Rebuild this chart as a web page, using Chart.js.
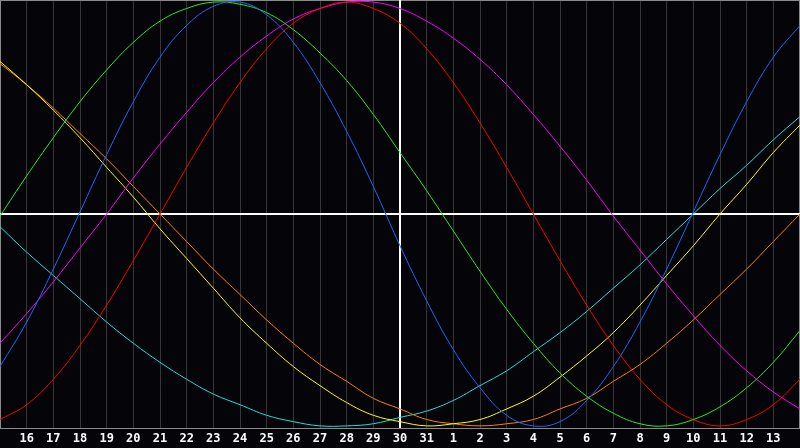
<!DOCTYPE html>
<html>
<head>
<meta charset="utf-8">
<script src="https://cdn.jsdelivr.net/npm/chart.js@4/dist/chart.umd.min.js"></script>
<style>
   html, body { margin: 0; padding: 0; background: #050408; }
   canvas { display: block; }
</style>
</head>
<body>
<canvas id="bioChart" width="800" height="448"></canvas>
<script>
// days shown, 15th to 14th of the next month
const days = ['15','16','17','18','19','20','21','22','23','24','25','26','27','28','29','30','31',
   '1','2','3','4','5','6','7','8','9','10','11','12','13','14'];

// cycle values, -1 .. 1
const physical = [-0.72,-0.51,-0.26,0.01,0.28,0.53,0.74,0.89,0.98,1.00,0.94,0.81,0.62,0.39,0.13,-0.15,
   -0.41,-0.64,-0.82,-0.95,-1.00,-0.98,-0.88,-0.72,-0.51,-0.26,0.01,0.28,0.53,0.74,0.89];
const emotional = [-0.97,-0.90,-0.78,-0.62,-0.43,-0.22,0.00,0.22,0.43,0.62,0.78,0.90,0.97,1.00,0.97,0.90,
   0.78,0.62,0.43,0.22,0.00,-0.22,-0.43,-0.62,-0.78,-0.90,-0.97,-1.00,-0.97,-0.90,-0.78];
const intellectual = [-0.01,0.18,0.36,0.53,0.68,0.81,0.91,0.97,1.00,0.99,0.95,0.87,0.76,0.63,0.47,0.29,
   0.11,-0.08,-0.27,-0.45,-0.61,-0.75,-0.86,-0.94,-0.99,-1.00,-0.97,-0.91,-0.82,-0.70,-0.55];
const intuitive = [-0.61,-0.47,-0.32,-0.16,0.00,0.17,0.33,0.48,0.62,0.74,0.84,0.92,0.97,1.00,1.00,0.97,
   0.91,0.83,0.73,0.61,0.47,0.32,0.16,-0.01,-0.17,-0.33,-0.48,-0.62,-0.74,-0.84,-0.92];
const aesthetic = [0.72,0.61,0.49,0.36,0.22,0.08,-0.07,-0.21,-0.35,-0.49,-0.61,-0.72,-0.81,-0.89,-0.95,-0.98,
   -1.00,-0.99,-0.97,-0.92,-0.86,-0.77,-0.67,-0.56,-0.43,-0.29,-0.15,0.00,0.14,0.29,0.42];
const awareness = [0.71,0.61,0.50,0.38,0.26,0.13,0.00,-0.13,-0.26,-0.38,-0.50,-0.61,-0.71,-0.79,-0.87,-0.92,
   -0.97,-0.99,-1.00,-0.99,-0.97,-0.92,-0.87,-0.79,-0.71,-0.61,-0.50,-0.38,-0.26,-0.13,0.00];
const spiritual = [-0.06,-0.18,-0.29,-0.40,-0.51,-0.61,-0.70,-0.78,-0.85,-0.90,-0.95,-0.98,-1.00,-1.00,-0.99,-0.96,
   -0.93,-0.88,-0.81,-0.74,-0.65,-0.56,-0.46,-0.35,-0.24,-0.12,0.00,0.12,0.23,0.35,0.46];

// black background, grey frame and the white zero / today cross
const bioFrame = {
   id: 'bioFrame',
   beforeDraw(chart) {
      const c = chart.ctx;
      c.save();
      c.fillStyle = '#050408';
      c.fillRect(0, 0, chart.width, chart.height);
      c.restore();
   },
   beforeDatasetsDraw(chart) {
      const c = chart.ctx;
      const a = chart.chartArea;
      const x = Math.round(chart.scales.x.getPixelForValue(days.indexOf('30')));
      const y = Math.round(chart.scales.y.getPixelForValue(0));
      c.save();
      c.lineWidth = 1;
      c.strokeStyle = '#8a8a8a';
      c.strokeRect(a.left + 0.5, a.top + 0.5, a.right - a.left - 1, a.bottom - a.top);
      c.lineWidth = 2;
      c.strokeStyle = '#ffffff';
      c.beginPath();
      c.moveTo(a.left, y);
      c.lineTo(a.right, y);
      c.moveTo(x, a.top);
      c.lineTo(x, a.bottom);
      c.stroke();
      c.restore();
   }
};

function line(data, color) {
   return {
      data: data,
      borderColor: color,
      borderWidth: 1,
      pointRadius: 0,
      pointHitRadius: 0,
      tension: 0.4,
      fill: false
   };
}

const ctx = document.getElementById('bioChart');
const bioChart = new Chart(ctx, {
   type: 'line',
   data: {
      labels: days,
      datasets: [
         line(physical, '#1c66ff'),
         line(intellectual, '#22ee22'),
         line(emotional, '#ff0000'),
         line(intuitive, '#ff00ff'),
         line(aesthetic, '#ffff00'),
         line(awareness, '#ff8000'),
         line(spiritual, '#22dddd')
      ]
   },
   options: {
      responsive: false,
      animation: false,
      devicePixelRatio: 1,
      layout: { autoPadding: false, padding: 0 },
      plugins: {
         legend: { display: false },
         tooltip: { enabled: false }
      },
      scales: {
         x: {
            offset: false,
            grid: { color: '#363636', lineWidth: 1, drawTicks: false },
            border: { display: false },
            // days run edge to edge; fixed 20px strip for the labels
            afterFit: function(scale) {
               scale.paddingLeft = 0;
               scale.paddingRight = 0;
               scale.height = 20;
            },
            ticks: {
               autoSkip: false,
               maxRotation: 0,
               padding: 4,
               color: '#ffffff',
               font: { family: 'DejaVu Sans Mono', size: 12, weight: 'bold' },
               callback: function(value, index) {
                  return (index === 0 || index === days.length - 1) ? '' : days[index];
               }
            }
         },
         y: {
            display: false,
            min: -1.01,
            max: 1.01
         }
      }
   },
   plugins: [bioFrame]
});
</script>
</body>
</html>
